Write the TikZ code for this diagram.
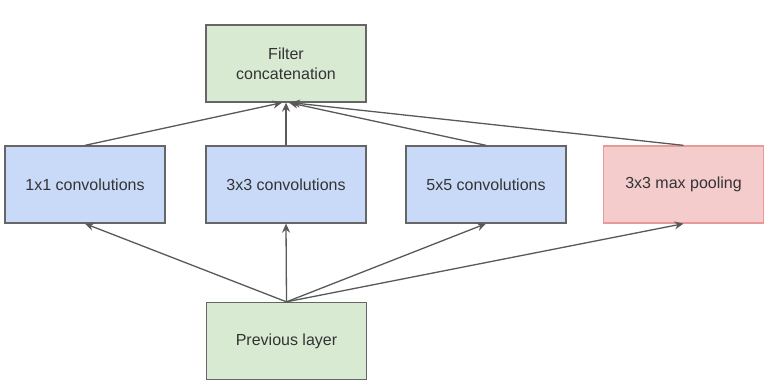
\documentclass[tikz,border=0pt]{standalone}
\usepackage{fontspec}
\setmainfont{Liberation Sans}
\usetikzlibrary{arrows.meta}
\definecolor{gfill}{HTML}{D9EAD3}
\definecolor{bfill}{HTML}{C9DAF8}
\definecolor{rfill}{HTML}{F4CCCC}
\definecolor{rdraw}{HTML}{EA9999}
\definecolor{bord}{HTML}{666666}
\definecolor{arr}{HTML}{595959}
\definecolor{txt}{HTML}{333333}
\begin{document}
\begin{tikzpicture}[x=1pt,y=-1pt,
  box/.style={draw=bord,line width=1.3pt,minimum width=160pt,minimum height=77pt,
    inner sep=0pt,align=center,text=txt,font=\fontsize{16}{20}\selectfont},
  gbox/.style={box,fill=gfill},
  bbox/.style={box,fill=bfill},
  rbox/.style={box,fill=rfill,draw=rdraw},
  conn/.style={draw=arr,line width=1.3pt,-{Stealth[length=9pt,width=8pt]}}]
\useasboundingbox[fill=white] (0,0) rectangle (776,390);
\node[gbox] (filter) at (286,63.5) {Filter\\concatenation};
\node[bbox] (c1) at (85,184.5) {1x1 convolutions};
\node[bbox] (c3) at (286,184.5) {3x3 convolutions};
\node[bbox] (c5) at (486,184.5) {5x5 convolutions};
\node[rbox] (mp) at (683.5,184.5) {3x3 max pooling};
\node[gbox] (prev) at (286.5,341) {Previous layer};
\draw[conn] (prev.north) -- (c1.south);
\draw[conn] (prev.north) -- (c3.south);
\draw[conn] (prev.north) -- (c5.south);
\draw[conn] (prev.north) -- (mp.south);
\draw[conn] (c1.north) -- ([xshift=-4pt]filter.south);
\draw[conn] (c3.north) -- (filter.south);
\draw[conn] (c5.north) -- ([xshift=3pt]filter.south);
\draw[conn] (mp.north) -- ([xshift=5pt]filter.south);
\end{tikzpicture}
\end{document}
